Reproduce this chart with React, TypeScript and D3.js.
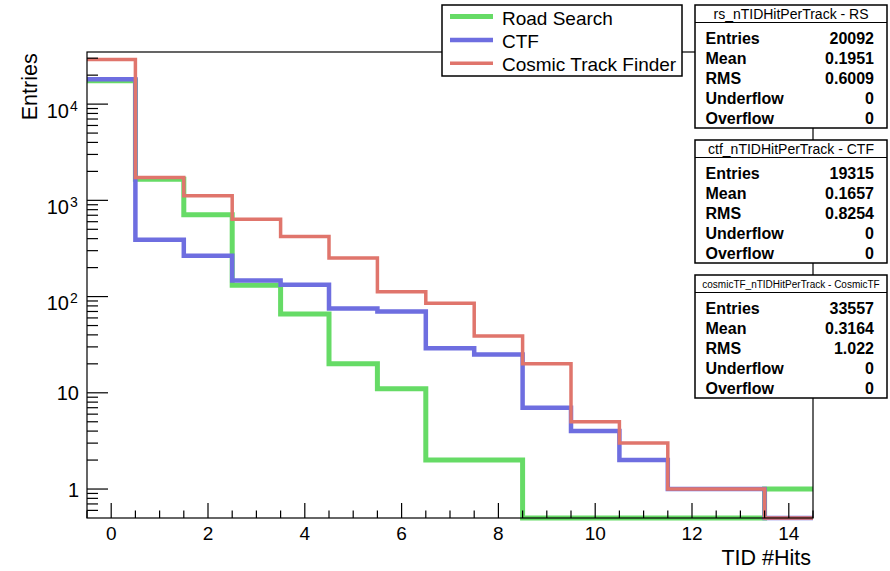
import React from "react";
import * as d3 from "d3";

// ---- data ----
const binCenters = [0, 1, 2, 3, 4, 5, 6, 7, 8, 9, 10, 11, 12, 13, 14];
const roadSearch = [17490, 1660, 707, 131, 66, 20, 11, 2, 2, 0, 0, 0, 0, 0, 1];
const ctf = [18166, 389, 266, 147, 133, 75, 70, 29, 25, 7, 4, 2, 1, 1, 0];
const cosmicTF = [29142, 1725, 1114, 638, 421, 251, 112, 85, 39, 20, 5, 3, 1, 1, 0];

const seriesNames = ["Road Search", "CTF", "Cosmic Track Finder"];
const xTickValues = [0, 2, 4, 6, 8, 10, 12, 14];
const yTickValues = [1, 10, 100, 1000, 10000];

const statTitles = [
  "rs_nTIDHitPerTrack - RS",
  "ctf_nTIDHitPerTrack - CTF",
  "cosmicTF_nTIDHitPerTrack - CosmicTF",
];
const statLabels = ["Entries", "Mean", "RMS", "Underflow", "Overflow"];
const statValuesRS = ["20092", "0.1951", "0.6009", "0", "0"];
const statValuesCTF = ["19315", "0.1657", "0.8254", "0", "0"];
const statValuesCosmic = ["33557", "0.3164", "1.022", "0", "0"];

const FONT = "'Liberation Sans', Arial, Helvetica, sans-serif";

const colors = ["#66db66", "#6e6ee0", "#e0756c"];
const widths = [5, 4.5, 3.5];

export default function App() {
  const W = 890, H = 571;
  const left = 87, right = 813, top = 52, bottom = 518;
  const x = d3.scaleLinear().domain([-0.5, 14.5]).range([left, right]);
  const yMin = 0.5, yMax = 34800;
  const y = d3.scaleLog().domain([yMin, yMax]).range([bottom, top]);

  const histPath = (vals: number[]) => {
    const pts: [number, number][] = [];
    vals.forEach((v, i) => {
      const c = binCenters[i];
      const yy = y(Math.max(v, yMin));
      pts.push([x(c - 0.5), yy]);
      pts.push([x(c + 0.5), yy]);
    });
    return d3.line()(pts) || "";
  };

  const allSeries = [roadSearch, ctf, cosmicTF];

  // minor ticks
  const yMinor: number[] = [];
  for (let e = -1; e <= 4; e++) {
    for (let m = 2; m <= 9; m++) {
      const v = m * Math.pow(10, e);
      if (v > yMin && v < yMax) yMinor.push(v);
    }
  }
  const xMinor: number[] = d3.range(-0.5, 14.51, 0.5).filter((v) => !xTickValues.includes(v));

  const statsData = [statValuesRS, statValuesCTF, statValuesCosmic];
  const boxTops = [5, 140, 275];
  const boxL = 695, boxR = 887, boxH = 123;

  return (
    <svg width={W} height={H} style={{ position: "absolute", left: 0, top: 0, background: "#fff" }} fontFamily={FONT}>
      <rect x={0} y={0} width={W} height={H} fill="#fff" />
      {/* histograms */}
      {allSeries.map((s, i) => (
        <path key={i} d={histPath(s)} fill="none" stroke={colors[i]} strokeWidth={widths[i]} strokeLinejoin="miter" />
      ))}
      {/* frame */}
      <rect x={left} y={top} width={right - left} height={bottom - top} fill="none" stroke="#000" strokeWidth={1.2} />
      {/* y ticks */}
      {yTickValues.map((v) => (
        <line key={"yt" + v} x1={left} x2={left + 21} y1={y(v)} y2={y(v)} stroke="#000" strokeWidth={1.2} />
      ))}
      {yMinor.map((v) => (
        <line key={"ym" + v} x1={left} x2={left + 11} y1={y(v)} y2={y(v)} stroke="#000" strokeWidth={1.2} />
      ))}
      {/* y labels */}
      {yTickValues.map((v) => {
        const e = Math.round(Math.log10(v));
        const yy = y(v);
        if (e <= 1) {
          return (
            <text key={"yl" + v} x={79} y={yy + 7.5} textAnchor="end" fontSize={20} fill="#000">
              {String(v)}
            </text>
          );
        }
        return (
          <g key={"yl" + v}>
            <text x={69} y={yy + 13.5} textAnchor="end" fontSize={20} fill="#000">10</text>
            <text x={70} y={yy + 6.5} textAnchor="start" fontSize={14} fill="#000">{String(e)}</text>
          </g>
        );
      })}
      {/* x ticks */}
      {xTickValues.map((v) => (
        <line key={"xt" + v} x1={x(v)} x2={x(v)} y1={bottom} y2={bottom - 15} stroke="#000" strokeWidth={1.2} />
      ))}
      {xMinor.map((v) => (
        <line key={"xm" + v} x1={x(v)} x2={x(v)} y1={bottom} y2={bottom - 7.5} stroke="#000" strokeWidth={1.2} />
      ))}
      {xTickValues.map((v) => (
        <text key={"xl" + v} x={x(v)} y={539.5} textAnchor="middle" fontSize={19} fill="#000">
          {String(v)}
        </text>
      ))}
      {/* axis titles */}
      <text x={811} y={565} textAnchor="end" fontSize={21.5} fill="#000">TID #Hits</text>
      <text transform="translate(36.5,53.3) rotate(-90)" textAnchor="end" fontSize={21.5} fill="#000">Entries</text>

      {/* legend */}
      <rect x={442} y={5} width={240} height={71} fill="#fff" stroke="#000" strokeWidth={1.5} />
      {seriesNames.map((n, i) => (
        <g key={"lg" + i}>
          <line x1={450} x2={493} y1={16.5 + i * 23.4} y2={16.5 + i * 23.4} stroke={colors[i]} strokeWidth={widths[i]} />
          <text x={502} y={24.5 + i * 23.4} fontSize={19} fill="#000">{n}</text>
        </g>
      ))}

      {/* stats boxes */}
      {statsData.map((vals, b) => {
        const t = boxTops[b];
        return (
          <g key={"sb" + b}>
            <rect x={boxL} y={t} width={boxR - boxL} height={boxH} fill="#fff" stroke="#000" strokeWidth={1.5} />
            <line x1={boxL} x2={boxR} y1={t + 17.5} y2={t + 17.5} stroke="#000" strokeWidth={1.2} />
            <text x={(boxL + boxR) / 2} y={b === 2 ? t + 13 : t + 13.5} textAnchor="middle" fontSize={b === 2 ? 10 : 14} fill="#000">
              {statTitles[b]}
            </text>
            {statLabels.map((l, r) => (
              <g key={l}>
                <text x={705.5} y={t + 38.5 + r * 20} fontSize={16} fontWeight="bold" fill="#000">{l}</text>
                <text x={874} y={t + 38.5 + r * 20} fontSize={16} fontWeight="bold" textAnchor="end" fill="#000">{vals[r]}</text>
              </g>
            ))}
          </g>
        );
      })}
    </svg>
  );
}
